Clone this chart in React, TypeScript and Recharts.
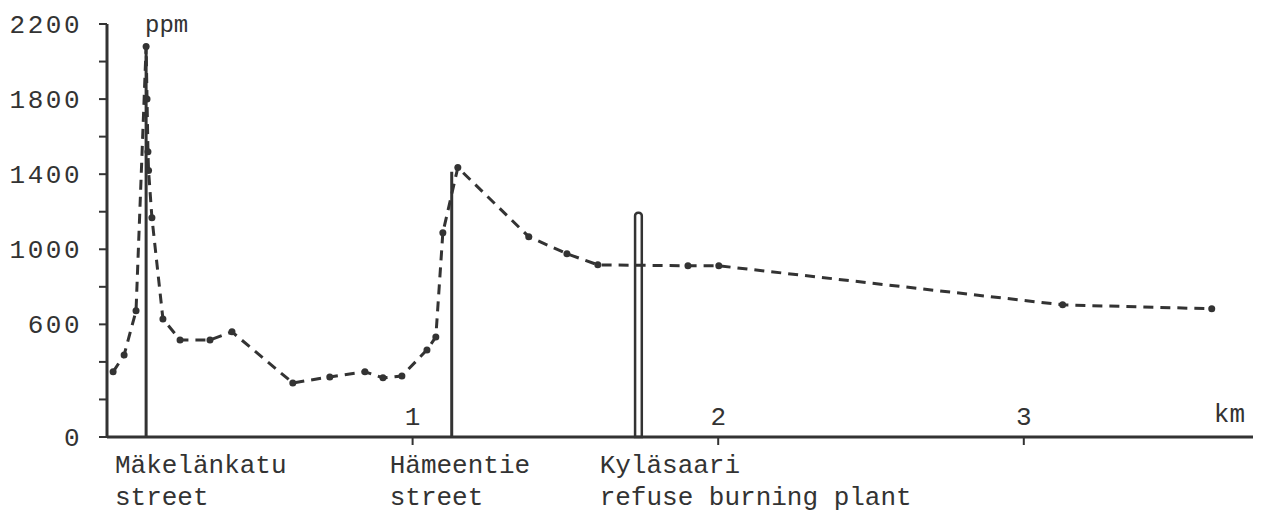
import React from 'react';
import { LineChart, Line, XAxis, YAxis, ReferenceLine, ReferenceArea, Label } from 'recharts';

const distanceKm = [0.02, 0.056, 0.095, 0.128, 0.131, 0.134, 0.136, 0.147, 0.183, 0.239, 0.337, 0.409, 0.608, 0.729, 0.844, 0.903, 0.965, 1.047, 1.076, 1.099, 1.148, 1.38, 1.505, 1.606, 1.901, 2.002, 3.127, 3.615];
const ppmValues = [347, 437, 672, 2080, 1800, 1520, 1420, 1168, 629, 517, 517, 560, 288, 320, 347, 315, 325, 464, 533, 1088, 1435, 1067, 976, 917, 912, 912, 704, 683];

const kmTicks = [1, 2, 3];
const ppmTicks = [0, 200, 400, 600, 800, 1000, 1200, 1400, 1600, 1800, 2000, 2200];
const ppmLabeled = [0, 600, 1000, 1400, 1800, 2200];

const siteKm = [0.128, 1.128];
const siteTop = [2080, 1413];
const plantKm = [1.728, 1.75];
const plantTop = 1195;
const siteNames = [['Mäkelänkatu', 'street'], ['Hämeentie', 'street'], ['Kyläsaari', 'refuse burning plant']];
const siteLabelKm = [0.026, 0.925, 1.612];

const data = distanceKm.map((km, i) => ({ km, ppm: ppmValues[i] }));

const INK = '#333333';
const FONT = '"Liberation Mono", "DejaVu Sans Mono", monospace';

const YTick = (props: any) => {
  const { x, y, payload } = props;
  if (!ppmLabeled.includes(payload.value)) return null;
  return (
    <text x={x} y={y} dy={9} textAnchor="end" fill={INK} fontFamily={FONT} fontSize={26} letterSpacing={2.5}>
      {payload.value}
    </text>
  );
};

const XTick = (props: any) => {
  const { x, y, payload } = props;
  return (
    <text x={x} y={y - 20} textAnchor="middle" fill={INK} fontFamily={FONT} fontSize={26}>
      {payload.value}
    </text>
  );
};

export default function App() {
  return (
    <div style={{ position: 'absolute', left: 0, top: 0, width: 1261, height: 512, background: '#fff' }}>
      <LineChart width={1261} height={512} data={data} margin={{ top: 24, right: 8, bottom: 0, left: 0 }}>
        <XAxis
          dataKey="km"
          type="number"
          domain={[0, 3.75]}
          ticks={kmTicks}
          tick={<XTick />}
          tickSize={8}
          tickMargin={0}
          height={75}
          axisLine={{ stroke: INK, strokeWidth: 3 }}
          tickLine={{ stroke: INK, strokeWidth: 2 }}
          allowDataOverflow
        >
          <Label
            content={(p: any) => {
              const vb = p.viewBox;
              return (
                <g fontFamily={FONT} fontSize={26} fill={INK}>
                  <text x={vb.x + vb.width - 8} y={vb.y - 15} textAnchor="end">km</text>
                  {siteNames.map((lines, i) => {
                    const x = vb.x + (siteLabelKm[i] / 3.75) * vb.width;
                    return (
                      <g key={i}>
                        <text x={x} y={vb.y + 36}>{lines[0]}</text>
                        <text x={x} y={vb.y + 68}>{lines[1]}</text>
                      </g>
                    );
                  })}
                </g>
              );
            }}
          />
        </XAxis>
        <YAxis
          type="number"
          domain={[0, 2200]}
          ticks={ppmTicks}
          width={107}
          tick={<YTick />}
          tickSize={8}
          tickMargin={17}
          axisLine={{ stroke: INK, strokeWidth: 3 }}
          tickLine={{ stroke: INK, strokeWidth: 2 }}
        >
          <Label
            content={(p: any) => {
              const vb = p.viewBox;
              return (
                <text x={vb.x + vb.width + 38} y={vb.y + 8} fontFamily={FONT} fontSize={24} fill={INK}>ppm</text>
              );
            }}
          />
        </YAxis>
        {siteKm.map((k, i) => (
          <ReferenceLine
            key={i}
            segment={[{ x: k, y: 0 }, { x: k, y: siteTop[i] }]}
            stroke={INK}
            strokeWidth={3}
          />
        ))}
        <ReferenceArea
          x1={plantKm[0]}
          x2={plantKm[1]}
          y1={0}
          y2={plantTop}
          fill="none"
          fillOpacity={0}
          stroke={INK}
          strokeWidth={2.5}
          radius={[3, 3, 0, 0]}
        />
        <Line
          type="linear"
          dataKey="ppm"
          stroke={INK}
          strokeWidth={3}
          strokeDasharray="10 7"
          dot={{ r: 3.5, fill: INK, stroke: INK, strokeWidth: 0 }}
          isAnimationActive={false}
        />
      </LineChart>
    </div>
  );
}
